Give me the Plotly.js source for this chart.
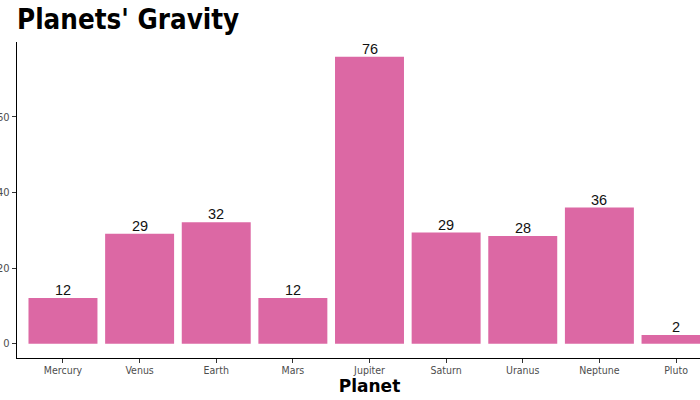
<!DOCTYPE html>
<html>
<head>
<meta charset="utf-8">
<script src="https://cdn.plot.ly/plotly-3.0.1.min.js"></script>
<style>
  html, body { margin: 0; padding: 0; overflow: hidden; background: #fff; }
  #myDiv { width: 722px; height: 400px; }
</style>
</head>
<body>
<div id="myDiv"></div>
<script>
// gravity in ft/s^2
var planets = ['Mercury', 'Venus', 'Earth', 'Mars', 'Jupiter', 'Saturn', 'Uranus', 'Neptune', 'Pluto'];
var gravity = [12.1, 29.1, 32.1, 12.1, 75.9, 29.4, 28.5, 36.0, 2.3];
var gravityLabels = ['12', '29', '32', '12', '76', '29', '28', '36', '2'];
var yTicks = [0, 20, 40, 60];

var tickFont = 'DejaVu Sans Condensed, DejaVu Sans, sans-serif';

var trace = {
  type: 'bar',
  x: planets,
  y: gravity,
  marker: {color: '#dc68a4'},
  width: 0.9,
  hoverinfo: 'x+y'
};

// value labels sitting right on top of each bar
var labels = planets.map(function (p, i) {
  return {
    x: p, y: gravity[i], xref: 'x', yref: 'y',
    text: gravityLabels[i], showarrow: false,
    yanchor: 'bottom', yshift: -2,
    font: {family: 'Liberation Sans, Arial, sans-serif', size: 14.5, color: '#111'}
  };
});

var layout = {
  width: 722,
  height: 400,
  margin: {l: 17, r: 0, t: 42, b: 42},
  paper_bgcolor: '#fff',
  plot_bgcolor: '#fff',
  showlegend: false,
  title: {
    text: "<b>Planets' Gravity</b>",
    font: {family: 'DejaVu Sans Condensed, DejaVu Sans, sans-serif', size: 27.5, color: '#000'},
    x: 0, xref: 'paper', xanchor: 'left',
    y: 0.975, yref: 'container', yanchor: 'top'
  },
  xaxis: {
    range: [-0.6, 8.6],
    showline: true, linecolor: '#000', linewidth: 1.2,
    ticks: 'outside', ticklen: 4, tickcolor: '#333',
    ticklabelstandoff: -2,
    tickfont: {family: tickFont, size: 10.5, color: '#4d4d4d'},
    showgrid: false, zeroline: false,
    title: {text: 'Planet', standoff: 0,
      font: {family: 'DejaVu Sans, sans-serif', size: 17, color: '#000', weight: 600}}
  },
  yaxis: {
    range: [-3.8, 79.8],
    tickvals: yTicks,
    showline: true, linecolor: '#000', linewidth: 1.2,
    ticks: 'outside', ticklen: 4, tickcolor: '#333',
    tickfont: {family: tickFont, size: 11, color: '#4d4d4d'},
    showgrid: false, zeroline: false
  },
  annotations: labels
};

Plotly.newPlot('myDiv', [trace], layout, {displayModeBar: false, staticPlot: true});
</script>
</body>
</html>
